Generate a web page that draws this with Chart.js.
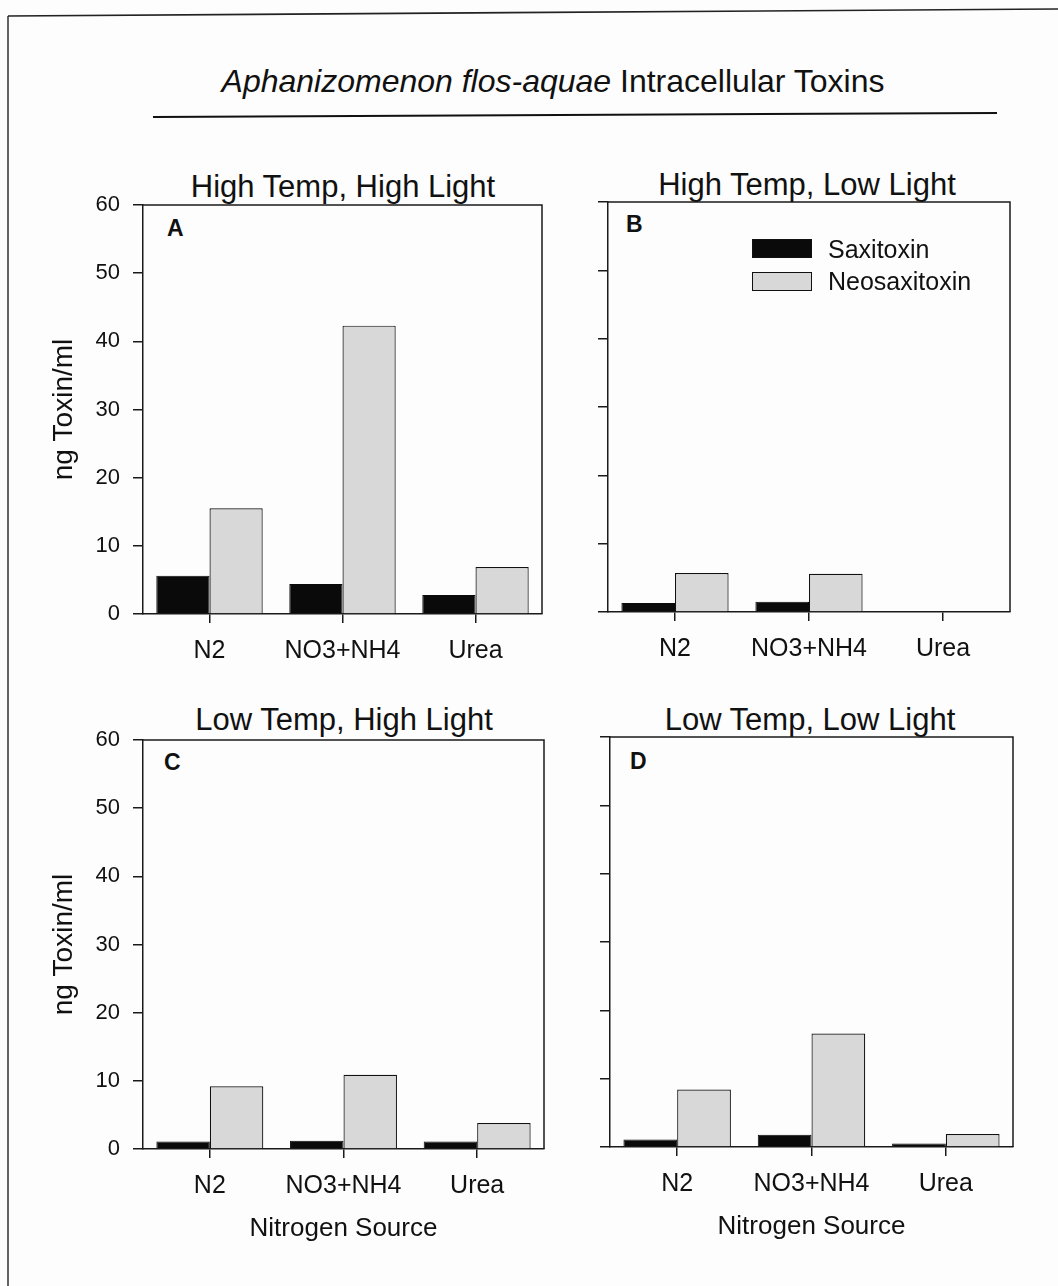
<!DOCTYPE html>
<html>
<head>
<meta charset="utf-8">
<script src="https://cdn.jsdelivr.net/npm/chart.js@4.4.1/dist/chart.umd.min.js"></script>
<style>
  body { margin: 0; background: #fff; }
  #page { position: relative; width: 1058px; height: 1286px; overflow: hidden;
          font-family: 'Liberation Sans', Arial, sans-serif; color: #111; background: #fdfdfd; }
  canvas { position: absolute; }
  .txt { position: absolute; line-height: 1; white-space: nowrap; }
  .ptitle { font-size: 31px; transform: translateX(-50%); }
  .letter { font-size: 23px; font-weight: bold; }
  .legend { font-size: 25px; }
  .swatch { position: absolute; width: 60px; height: 19px; box-sizing: border-box; border: 1px solid #111; }
  svg { position: absolute; left: 0; top: 0; }
</style>
</head>
<body>
<div id="page">
  <svg width="1058" height="1286">
    <line x1="8" y1="16" x2="1058" y2="9" stroke="#222" stroke-width="1.6"/>
    <line x1="8" y1="16" x2="8" y2="1286" stroke="#222" stroke-width="1.4"/>
    <line x1="153" y1="117" x2="997" y2="113" stroke="#111" stroke-width="2"/>
  </svg>

  <div class="txt" style="left:553px;top:65px;font-size:32px;transform:translateX(-50%);">
    <i>Aphanizomenon flos-aquae</i> Intracellular Toxins
  </div>

  <div class="txt ptitle" id="tA" style="left:343px;top:171px;"></div>
  <div class="txt ptitle" id="tB" style="left:807px;top:169px;"></div>
  <div class="txt ptitle" id="tC" style="left:344px;top:704px;"></div>
  <div class="txt ptitle" id="tD" style="left:810px;top:704px;"></div>

  <div class="txt letter" style="left:167px;top:217px;">A</div>
  <div class="txt letter" style="left:626px;top:213px;">B</div>
  <div class="txt letter" style="left:164px;top:751px;">C</div>
  <div class="txt letter" style="left:630px;top:750px;">D</div>

  <canvas id="chartA" width="534" height="539" style="left:20px;top:175px;"></canvas>
  <canvas id="chartB" width="462" height="540" style="left:560px;top:172px;"></canvas>
  <canvas id="chartC" width="536" height="539" style="left:20px;top:710px;"></canvas>
  <canvas id="chartD" width="465" height="540" style="left:560px;top:707px;"></canvas>

  <div class="swatch" style="left:752px;top:239px;background:#0a0a0a;"></div>
  <div class="swatch" style="left:752px;top:272px;background:#d8d8d8;"></div>
  <div class="txt legend" id="lg0" style="left:828px;top:237px;"></div>
  <div class="txt legend" id="lg1" style="left:828px;top:269px;"></div>
</div>

<script>
const categories = ['N2', 'NO3+NH4', 'Urea'];
const seriesNames = ['Saxitoxin', 'Neosaxitoxin'];
const yTickValues = [0, 10, 20, 30, 40, 50, 60];
const panelTitles = ['High Temp, High Light', 'High Temp, Low Light', 'Low Temp, High Light', 'Low Temp, Low Light'];

const saxitoxinA = [5.6, 4.4, 2.8];
const neosaxitoxinA = [15.5, 42.3, 6.9];
const saxitoxinB = [1.3, 1.5, null];
const neosaxitoxinB = [5.7, 5.6, null];
const saxitoxinC = [1.1, 1.2, 1.1];
const neosaxitoxinC = [9.2, 10.9, 3.8];
const saxitoxinD = [1.1, 1.8, 0.5];
const neosaxitoxinD = [8.4, 16.6, 1.9];

document.getElementById('tA').textContent = panelTitles[0];
document.getElementById('tB').textContent = panelTitles[1];
document.getElementById('tC').textContent = panelTitles[2];
document.getElementById('tD').textContent = panelTitles[3];
document.getElementById('lg0').textContent = seriesNames[0];
document.getElementById('lg1').textContent = seriesNames[1];

Chart.defaults.font.family = "'Liberation Sans', Arial, sans-serif";
Chart.defaults.color = '#111';

const ink = '#1a1a1a';

// top and right sides of the plot box
const boxLines = {
  id: 'boxLines',
  afterDatasetsDraw(chart) {
    const { ctx, chartArea: a } = chart;
    ctx.save();
    ctx.strokeStyle = ink;
    ctx.lineWidth = 1.5;
    ctx.beginPath();
    ctx.moveTo(a.left, a.top);
    ctx.lineTo(a.right, a.top);
    ctx.lineTo(a.right, a.bottom);
    ctx.stroke();
    ctx.restore();
  }
};

function makePanel(id, sax, neo, axisWidth, showYLabels, showXTitle) {
  new Chart(document.getElementById(id), {
    type: 'bar',
    data: {
      labels: categories,
      datasets: [
        { label: seriesNames[0], data: sax, backgroundColor: '#0a0a0a', borderColor: '#0a0a0a', borderWidth: 1 },
        { label: seriesNames[1], data: neo, backgroundColor: '#d8d8d8', borderColor: '#111', borderWidth: 1.2 }
      ]
    },
    options: {
      responsive: false,
      animation: false,
      devicePixelRatio: 1,
      layout: { padding: { top: 30, right: 12, left: 0, bottom: 0 } },
      datasets: { bar: { categoryPercentage: 0.8, barPercentage: 1.0 } },
      plugins: { legend: { display: false }, tooltip: { enabled: false } },
      scales: {
        x: {
          offset: true,
          grid: { offset: false, drawOnChartArea: false, tickLength: 9, color: ink, lineWidth: 1.5 },
          border: { color: ink, width: 1.5 },
          ticks: { font: { size: 25 }, padding: 13, color: '#111' },
          title: { display: showXTitle, text: 'Nitrogen Source', font: { size: 26 }, padding: { top: 0, bottom: 5 }, color: '#111' },
          afterFit: s => { s.height = 100; }
        },
        y: {
          min: 0,
          max: 60,
          afterBuildTicks: s => { s.ticks = yTickValues.map(v => ({ value: v })); },
          grid: { drawOnChartArea: false, tickLength: 10, color: ink, lineWidth: 1.5 },
          border: { color: ink, width: 1.5 },
          ticks: { display: showYLabels, font: { size: 22 }, padding: 13, color: '#111' },
          title: { display: showYLabels, text: 'ng Toxin/ml', font: { size: 28 }, padding: { top: 27, bottom: 0 }, color: '#111' },
          afterFit: s => { s.width = axisWidth; }
        }
      }
    },
    plugins: [boxLines]
  });
}

makePanel('chartA', saxitoxinA, neosaxitoxinA, 123, true, false);
makePanel('chartB', saxitoxinB, neosaxitoxinB, 48, false, false);
makePanel('chartC', saxitoxinC, neosaxitoxinC, 123, true, true);
makePanel('chartD', saxitoxinD, neosaxitoxinD, 50, false, true);
</script>
</body>
</html>
